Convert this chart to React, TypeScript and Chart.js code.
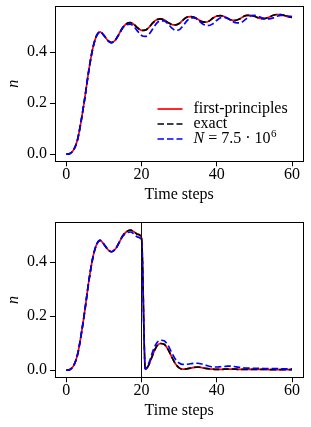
import React, { useEffect, useRef } from "react";
import { Chart, registerables } from "chart.js";

Chart.register(...registerables);

// ---------- data ----------
const timeSteps = [
  0, 1, 2, 3, 4, 5, 6, 7, 8, 9,
  10, 11, 12, 13, 14, 15, 16, 17, 18, 19,
  20, 21, 22, 23, 24, 25, 26, 27, 28, 29,
  30, 31, 32, 33, 34, 35, 36, 37, 38, 39,
  40, 41, 42, 43, 44, 45, 46, 47, 48, 49,
  50, 51, 52, 53, 54, 55, 56, 57, 58, 59,
  60,
];

const topFirstPrinciples = [
  0.000, 0.003, 0.018, 0.058, 0.135, 0.228, 0.330, 0.412, 0.463, 0.480,
  0.466, 0.447, 0.438, 0.447, 0.471, 0.497, 0.512, 0.516, 0.509, 0.495,
  0.486, 0.487, 0.498, 0.515, 0.527, 0.531, 0.527, 0.517, 0.509, 0.507,
  0.513, 0.526, 0.537, 0.540, 0.537, 0.529, 0.520, 0.518, 0.523, 0.534,
  0.542, 0.544, 0.540, 0.532, 0.526, 0.525, 0.530, 0.539, 0.545, 0.545,
  0.541, 0.535, 0.532, 0.533, 0.538, 0.545, 0.548, 0.548, 0.544, 0.539,
  0.537,
];

const topExact = [
  0.000, 0.003, 0.018, 0.058, 0.135, 0.228, 0.330, 0.412, 0.463, 0.480,
  0.466, 0.447, 0.438, 0.447, 0.471, 0.497, 0.512, 0.516, 0.509, 0.495,
  0.486, 0.487, 0.498, 0.515, 0.527, 0.531, 0.527, 0.517, 0.509, 0.507,
  0.513, 0.526, 0.537, 0.540, 0.537, 0.529, 0.520, 0.518, 0.523, 0.534,
  0.542, 0.544, 0.540, 0.532, 0.526, 0.525, 0.530, 0.539, 0.545, 0.545,
  0.541, 0.535, 0.532, 0.533, 0.538, 0.545, 0.548, 0.548, 0.544, 0.539,
  0.537,
];

const topSampled = [
  0.000, 0.003, 0.018, 0.058, 0.135, 0.228, 0.330, 0.412, 0.463, 0.480,
  0.466, 0.447, 0.438, 0.447, 0.470, 0.495, 0.508, 0.510, 0.500, 0.482,
  0.466, 0.462, 0.471, 0.492, 0.513, 0.523, 0.523, 0.512, 0.496, 0.486,
  0.488, 0.503, 0.522, 0.534, 0.535, 0.527, 0.514, 0.506, 0.505, 0.512,
  0.525, 0.535, 0.537, 0.532, 0.523, 0.516, 0.515, 0.521, 0.533, 0.542,
  0.545, 0.541, 0.535, 0.531, 0.531, 0.535, 0.541, 0.545, 0.545, 0.542,
  0.540,
];

const bottomFirstPrinciples = [
  0.000, 0.003, 0.018, 0.058, 0.135, 0.228, 0.330, 0.412, 0.463, 0.480,
  0.466, 0.447, 0.438, 0.447, 0.471, 0.497, 0.512, 0.518, 0.512, 0.502,
  0.489, 0.003, 0.022, 0.058, 0.088, 0.099, 0.096, 0.078, 0.050, 0.024,
  0.009, 0.004, 0.005, 0.008, 0.011, 0.012, 0.010, 0.007, 0.005, 0.004,
  0.003, 0.003, 0.004, 0.004, 0.004, 0.004, 0.003, 0.003, 0.003, 0.003,
  0.003, 0.003, 0.003, 0.003, 0.002, 0.002, 0.002, 0.002, 0.002, 0.002,
  0.002,
];

const bottomExact = [
  0.000, 0.003, 0.018, 0.058, 0.135, 0.228, 0.330, 0.412, 0.463, 0.480,
  0.466, 0.447, 0.438, 0.447, 0.471, 0.497, 0.512, 0.518, 0.512, 0.502,
  0.489, 0.003, 0.022, 0.058, 0.088, 0.099, 0.096, 0.078, 0.050, 0.024,
  0.009, 0.004, 0.005, 0.008, 0.011, 0.012, 0.010, 0.007, 0.005, 0.004,
  0.003, 0.003, 0.004, 0.004, 0.004, 0.004, 0.003, 0.003, 0.003, 0.003,
  0.003, 0.003, 0.003, 0.003, 0.002, 0.002, 0.002, 0.002, 0.002, 0.002,
  0.002,
];

const bottomSampled = [
  0.000, 0.003, 0.018, 0.058, 0.135, 0.228, 0.330, 0.412, 0.463, 0.480,
  0.466, 0.447, 0.438, 0.447, 0.470, 0.495, 0.507, 0.511, 0.504, 0.492,
  0.480, 0.004, 0.028, 0.070, 0.100, 0.111, 0.109, 0.093, 0.066, 0.041,
  0.027, 0.022, 0.022, 0.024, 0.026, 0.026, 0.023, 0.019, 0.015, 0.012,
  0.012, 0.013, 0.014, 0.015, 0.015, 0.013, 0.011, 0.009, 0.008, 0.008,
  0.007, 0.007, 0.007, 0.006, 0.006, 0.006, 0.006, 0.005, 0.005, 0.005,
  0.005,
];

const xTickValues = [0, 20, 40, 60];
const yTickValues = [0, 0.2, 0.4];
const switchStep = 20;
const seriesLabels = ["first-principles", "exact", "N = 7.5 · 10⁶"];
const xAxisTitle = "Time steps";
const yAxisTitle = "n";

// ---------- styling ----------
const FONT = "'Liberation Serif', 'Times New Roman', serif";
const RED = "#ff0000";
const BLACK = "#000000";
const BLUE = "#0000ff";
const DASH = [6.5, 3];
const LW = 1.7;

const align = (v: number) => Math.round(v - 0.5) + 0.5;

const framePlugin = {
  id: "frame",
  afterDatasetsDraw(chart: any) {
    const { ctx, chartArea } = chart;
    const l = align(chartArea.left);
    const t = align(chartArea.top);
    const r = align(chartArea.right);
    const b = align(chartArea.bottom);
    ctx.save();
    ctx.strokeStyle = "#000";
    ctx.lineWidth = 1;
    ctx.setLineDash([]);
    ctx.strokeRect(l, t, r - l, b - t);
    ctx.restore();
  },
};

const switchLinePlugin = {
  id: "switchLine",
  afterDatasetsDraw(chart: any) {
    const { ctx, chartArea } = chart;
    const x = align(chart.scales.x.getPixelForValue(switchStep));
    ctx.save();
    ctx.strokeStyle = "#111";
    ctx.lineWidth = 1;
    ctx.setLineDash([]);
    ctx.beginPath();
    ctx.moveTo(x, chartArea.top);
    ctx.lineTo(x, chartArea.bottom);
    ctx.stroke();
    ctx.restore();
  },
};

const legendPlugin = {
  id: "customLegend",
  afterDraw(chart: any) {
    const ctx = chart.ctx;
    const x0 = 157.5;
    const x1 = 182.5;
    const tx = 193.5;
    const lineYs = [109, 124, 139];
    const baseYs = [113.3, 128.3, 143.3];
    const colors = [RED, BLACK, BLUE];
    const dashes = [[], DASH, DASH];
    ctx.save();
    for (let i = 0; i < 3; i++) {
      ctx.beginPath();
      ctx.strokeStyle = colors[i];
      ctx.lineWidth = LW;
      ctx.setLineDash(dashes[i]);
      ctx.moveTo(x0, lineYs[i]);
      ctx.lineTo(x1, lineYs[i]);
      ctx.stroke();
    }
    ctx.setLineDash([]);
    ctx.fillStyle = "#000";
    ctx.textBaseline = "alphabetic";
    ctx.textAlign = "left";
    ctx.font = `16px ${FONT}`;
    ctx.fillText(seriesLabels[0], tx, baseYs[0]);
    ctx.fillText(seriesLabels[1], tx, baseYs[1]);
    // third label with italic N and superscript exponent
    const label = seriesLabels[2];
    const nPart = label.slice(0, 1);
    const midPart = label.slice(1, label.length - 1);
    const supPart = "6";
    let x = tx;
    ctx.font = `italic 16px ${FONT}`;
    ctx.fillText(nPart, x, baseYs[2]);
    x += ctx.measureText(nPart).width;
    ctx.font = `16px ${FONT}`;
    ctx.fillText(midPart, x, baseYs[2]);
    x += ctx.measureText(midPart).width + 0.5;
    ctx.font = `11px ${FONT}`;
    ctx.fillText(supPart, x, baseYs[2] - 6.5);
    ctx.restore();
  },
};

type PanelSpec = {
  fp: number[];
  exact: number[];
  sampled: number[];
  yMin: number;
  yMax: number;
  padTop: number;
  xAxisHeight: number;
  titlePadBottom: number;
  extraPlugins: any[];
};

function toPoints(values: number[]) {
  return timeSteps.map((t, i) => ({ x: t, y: values[i] }));
}

function buildConfig(spec: PanelSpec): any {
  const gridOpts = {
    display: true,
    drawOnChartArea: false,
    drawTicks: true,
    tickLength: 5,
    tickColor: "#000",
    tickWidth: 1,
  };
  return {
    type: "line",
    data: {
      datasets: [
        {
          label: seriesLabels[0],
          data: toPoints(spec.fp),
          borderColor: RED,
          borderWidth: LW,
          pointRadius: 0,
          cubicInterpolationMode: "monotone",
          fill: false,
          order: 3,
        },
        {
          label: seriesLabels[1],
          data: toPoints(spec.exact),
          borderColor: BLACK,
          borderWidth: LW,
          borderDash: DASH,
          pointRadius: 0,
          cubicInterpolationMode: "monotone",
          fill: false,
          order: 2,
        },
        {
          label: seriesLabels[2],
          data: toPoints(spec.sampled),
          borderColor: BLUE,
          borderWidth: LW,
          borderDash: DASH,
          pointRadius: 0,
          cubicInterpolationMode: "monotone",
          fill: false,
          order: 1,
        },
      ],
    },
    options: {
      animation: false,
      responsive: false,
      devicePixelRatio: 1,
      events: [],
      layout: { padding: { left: 0, right: 7.7, top: spec.padTop, bottom: 0 } },
      plugins: { legend: { display: false }, tooltip: { enabled: false } },
      scales: {
        x: {
          type: "linear",
          min: -3,
          max: 63,
          afterBuildTicks: (s: any) => {
            s.ticks = xTickValues.map((v) => ({ value: v }));
          },
          afterFit: (s: any) => {
            s.height = spec.xAxisHeight;
            s.paddingLeft = 0;
            s.paddingRight = 0;
          },
          grid: gridOpts,
          border: { display: false },
          ticks: {
            color: "#000",
            font: { family: FONT, size: 16, lineHeight: 1 },
            padding: 0.5,
            maxRotation: 0,
            autoSkip: false,
          },
          title: {
            display: true,
            text: xAxisTitle,
            color: "#000",
            font: { family: FONT, size: 16, lineHeight: 1.2 },
            padding: { top: 0, bottom: spec.titlePadBottom },
          },
        },
        y: {
          type: "linear",
          min: spec.yMin,
          max: spec.yMax,
          afterBuildTicks: (s: any) => {
            s.ticks = yTickValues.map((v) => ({ value: v }));
          },
          afterFit: (s: any) => {
            s.width = 55;
            s.paddingTop = 0;
            s.paddingBottom = 0;
          },
          grid: gridOpts,
          border: { display: false },
          ticks: {
            color: "#000",
            font: { family: FONT, size: 16, lineHeight: 1 },
            padding: 3,
            callback: (v: any) => Number(v).toFixed(1),
          },
          title: {
            display: true,
            text: yAxisTitle,
            color: "#000",
            font: { family: FONT, size: 16, style: "italic", lineHeight: 1.2 },
            padding: { top: 4.3, bottom: 0 },
          },
        },
      },
    },
    plugins: [framePlugin, ...spec.extraPlugins],
  };
}

function Panel({ spec, width, height }: { spec: PanelSpec; width: number; height: number }) {
  const ref = useRef<HTMLCanvasElement>(null);
  useEffect(() => {
    const chart = new Chart(ref.current as HTMLCanvasElement, buildConfig(spec));
    return () => chart.destroy();
  }, []);
  return (
    <canvas
      ref={ref}
      width={width}
      height={height}
      style={{ display: "block", width, height }}
    />
  );
}

const topSpec: PanelSpec = {
  fp: topFirstPrinciples,
  exact: topExact,
  sampled: topSampled,
  yMin: -0.0277,
  yMax: 0.581,
  padTop: 6.1,
  xAxisHeight: 210 - 161.3,
  titlePadBottom: 6.1,
  extraPlugins: [legendPlugin],
};

const bottomSpec: PanelSpec = {
  fp: bottomFirstPrinciples,
  exact: bottomExact,
  sampled: bottomSampled,
  yMin: -0.026,
  yMax: 0.545,
  padTop: 12.8,
  xAxisHeight: 217 - 167.3,
  titlePadBottom: 6.6,
  extraPlugins: [switchLinePlugin],
};

export default function App() {
  return (
    <div
      style={{
        position: "absolute",
        left: 0,
        top: 0,
        width: 311,
        height: 427,
        background: "#fff",
      }}
    >
      <Panel spec={topSpec} width={311} height={210} />
      <Panel spec={bottomSpec} width={311} height={217} />
    </div>
  );
}
